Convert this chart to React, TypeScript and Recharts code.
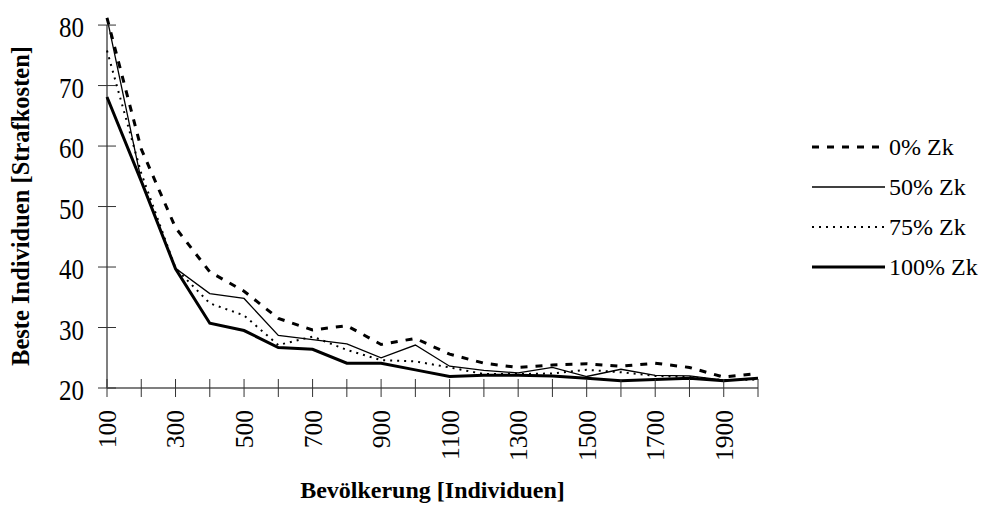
import React from "react";
import { LineChart, Line, XAxis, YAxis, Legend, ReferenceLine } from "recharts";

const population = [100, 200, 300, 400, 500, 600, 700, 800, 900, 1000, 1100, 1200, 1300, 1400, 1500, 1600, 1700, 1800, 1900, 2000];
const zk0 = [81.2, 59.5, 46.5, 39.2, 36.0, 31.5, 29.6, 30.3, 27.2, 28.2, 25.6, 24.1, 23.4, 23.8, 24.0, 23.6, 24.1, 23.4, 21.8, 22.4];
const zk50 = [81.2, 54.3, 39.8, 35.6, 34.8, 28.7, 28.0, 27.3, 25.0, 27.1, 23.6, 22.9, 22.5, 23.4, 21.9, 23.1, 22.1, 22.0, 21.3, 21.6];
const zk75 = [75.8, 55.5, 39.8, 34.0, 32.0, 27.1, 28.5, 26.3, 24.6, 24.4, 23.4, 22.3, 22.3, 22.4, 23.0, 22.6, 22.0, 21.8, 21.3, 21.4];
const zk100 = [68.1, 54.2, 39.7, 30.7, 29.5, 26.7, 26.4, 24.1, 24.1, 23.0, 21.9, 22.1, 22.1, 22.0, 21.6, 21.2, 21.4, 21.6, 21.2, 21.6];
const xLabelTicks = [100, 300, 500, 700, 900, 1100, 1300, 1500, 1700, 1900];
const yTicks = [20, 30, 40, 50, 60, 70, 80];

const data = population.map((p, i) => ({ pop: p, zk0: zk0[i], zk50: zk50[i], zk75: zk75[i], zk100: zk100[i] }));

const FONT = "'Liberation Serif', 'Times New Roman', serif";
const TICK_SIZE = 9;
const X_MARGIN = 13;
const Y_MARGIN = 14;

const series = [
  { key: "zk0", name: "0% Zk", width: 3, dash: "7 8" },
  { key: "zk50", name: "50% Zk", width: 1.3, dash: undefined },
  { key: "zk75", name: "75% Zk", width: 2, dash: "2 5" },
  { key: "zk100", name: "100% Zk", width: 3, dash: undefined },
];

const XTick = (props: any) => {
  const { x, y, payload } = props;
  const axisY = y - TICK_SIZE - X_MARGIN;
  const show = xLabelTicks.includes(payload.value);
  return (
    <g>
      <line x1={x} x2={x} y1={axisY - 9} y2={axisY + 9} stroke="#333" strokeWidth={1} />
      {show && (
        <text
          x={x}
          y={y}
          transform={`rotate(-90, ${x}, ${y})`}
          textAnchor="end"
          dy="0.35em"
          fontFamily={FONT}
          fontSize={25.5}
          fill="#000"
        >
          {payload.value}
        </text>
      )}
    </g>
  );
};

const YTick = (props: any) => {
  const { x, y, payload } = props;
  const axisX = x + TICK_SIZE + Y_MARGIN;
  return (
    <g>
      <line x1={axisX - 9} x2={axisX + 9} y1={y} y2={y} stroke="#333" strokeWidth={1} />
      <text
        x={0}
        y={0}
        transform={`translate(${x}, ${y}) scale(1, 1.2)`}
        textAnchor="end"
        dy="0.4em"
        fontFamily={FONT}
        fontSize={25}
        fill="#000"
      >
        {payload.value}
      </text>
    </g>
  );
};

const LegendContent = () => (
  <div style={{ fontFamily: FONT, fontSize: 24, color: "#000" }}>
    {series.map((s) => (
      <div key={s.key} style={{ display: "flex", alignItems: "center", height: 40 }}>
        <svg width={76} height={40} style={{ display: "block" }}>
          <line x1={0} x2={73} y1={20} y2={20} stroke="#000" strokeWidth={s.width} strokeDasharray={s.dash} />
        </svg>
        <span style={{ marginLeft: 1, lineHeight: "40px", whiteSpace: "nowrap" }}>{s.name}</span>
      </div>
    ))}
  </div>
);

export default function App() {
  return (
    <LineChart width={991} height={508} data={data} margin={{ top: 8, right: 241, left: 0, bottom: 0 }}>
      <XAxis
        dataKey="pop"
        type="number"
        domain={[100, 2000]}
        ticks={population}
        interval={0}
        tick={<XTick />}
        tickLine={false}
        tickSize={TICK_SIZE}
        tickMargin={X_MARGIN}
        axisLine={{ stroke: "#7f7f7f", strokeWidth: 2 }}
        height={128}
        label={{
          value: "Bevölkerung [Individuen]",
          position: "insideBottom",
          offset: 18,
          style: { fontFamily: FONT, fontSize: 24, fontWeight: "bold", fill: "#000" },
        }}
      />
      <YAxis
        type="number"
        domain={[20, 81.5]}
        ticks={yTicks}
        interval={0}
        tick={<YTick />}
        tickLine={false}
        tickSize={TICK_SIZE}
        tickMargin={Y_MARGIN}
        axisLine={false}
        width={99}
        label={{
          content: (p: any) => {
            const vb = p.viewBox;
            const cy = vb.y + vb.height / 2 + 4;
            return (
              <text
                x={21}
                y={cy}
                transform={`rotate(-90, 21, ${cy})`}
                textAnchor="middle"
                fontFamily={FONT}
                fontSize={24.5}
                fontWeight="bold"
                fill="#000"
              >
                Beste Individuen [Strafkosten]
              </text>
            );
          },
        }}
      />
      <ReferenceLine
        segment={[{ x: 100, y: 20 }, { x: 100, y: 80 }]}
        stroke="#7f7f7f"
        strokeWidth={2}
        ifOverflow="visible"
      />
      {series.map((s) => (
        <Line
          key={s.key}
          dataKey={s.key}
          name={s.name}
          type="linear"
          stroke="#000"
          strokeWidth={s.width}
          strokeDasharray={s.dash}
          dot={false}
          activeDot={false}
          isAnimationActive={false}
        />
      ))}
      <Legend
        layout="vertical"
        align="center"
        verticalAlign="middle"
        content={<LegendContent />}
        wrapperStyle={{ left: 804, top: 119, width: 187 }}
      />
    </LineChart>
  );
}
